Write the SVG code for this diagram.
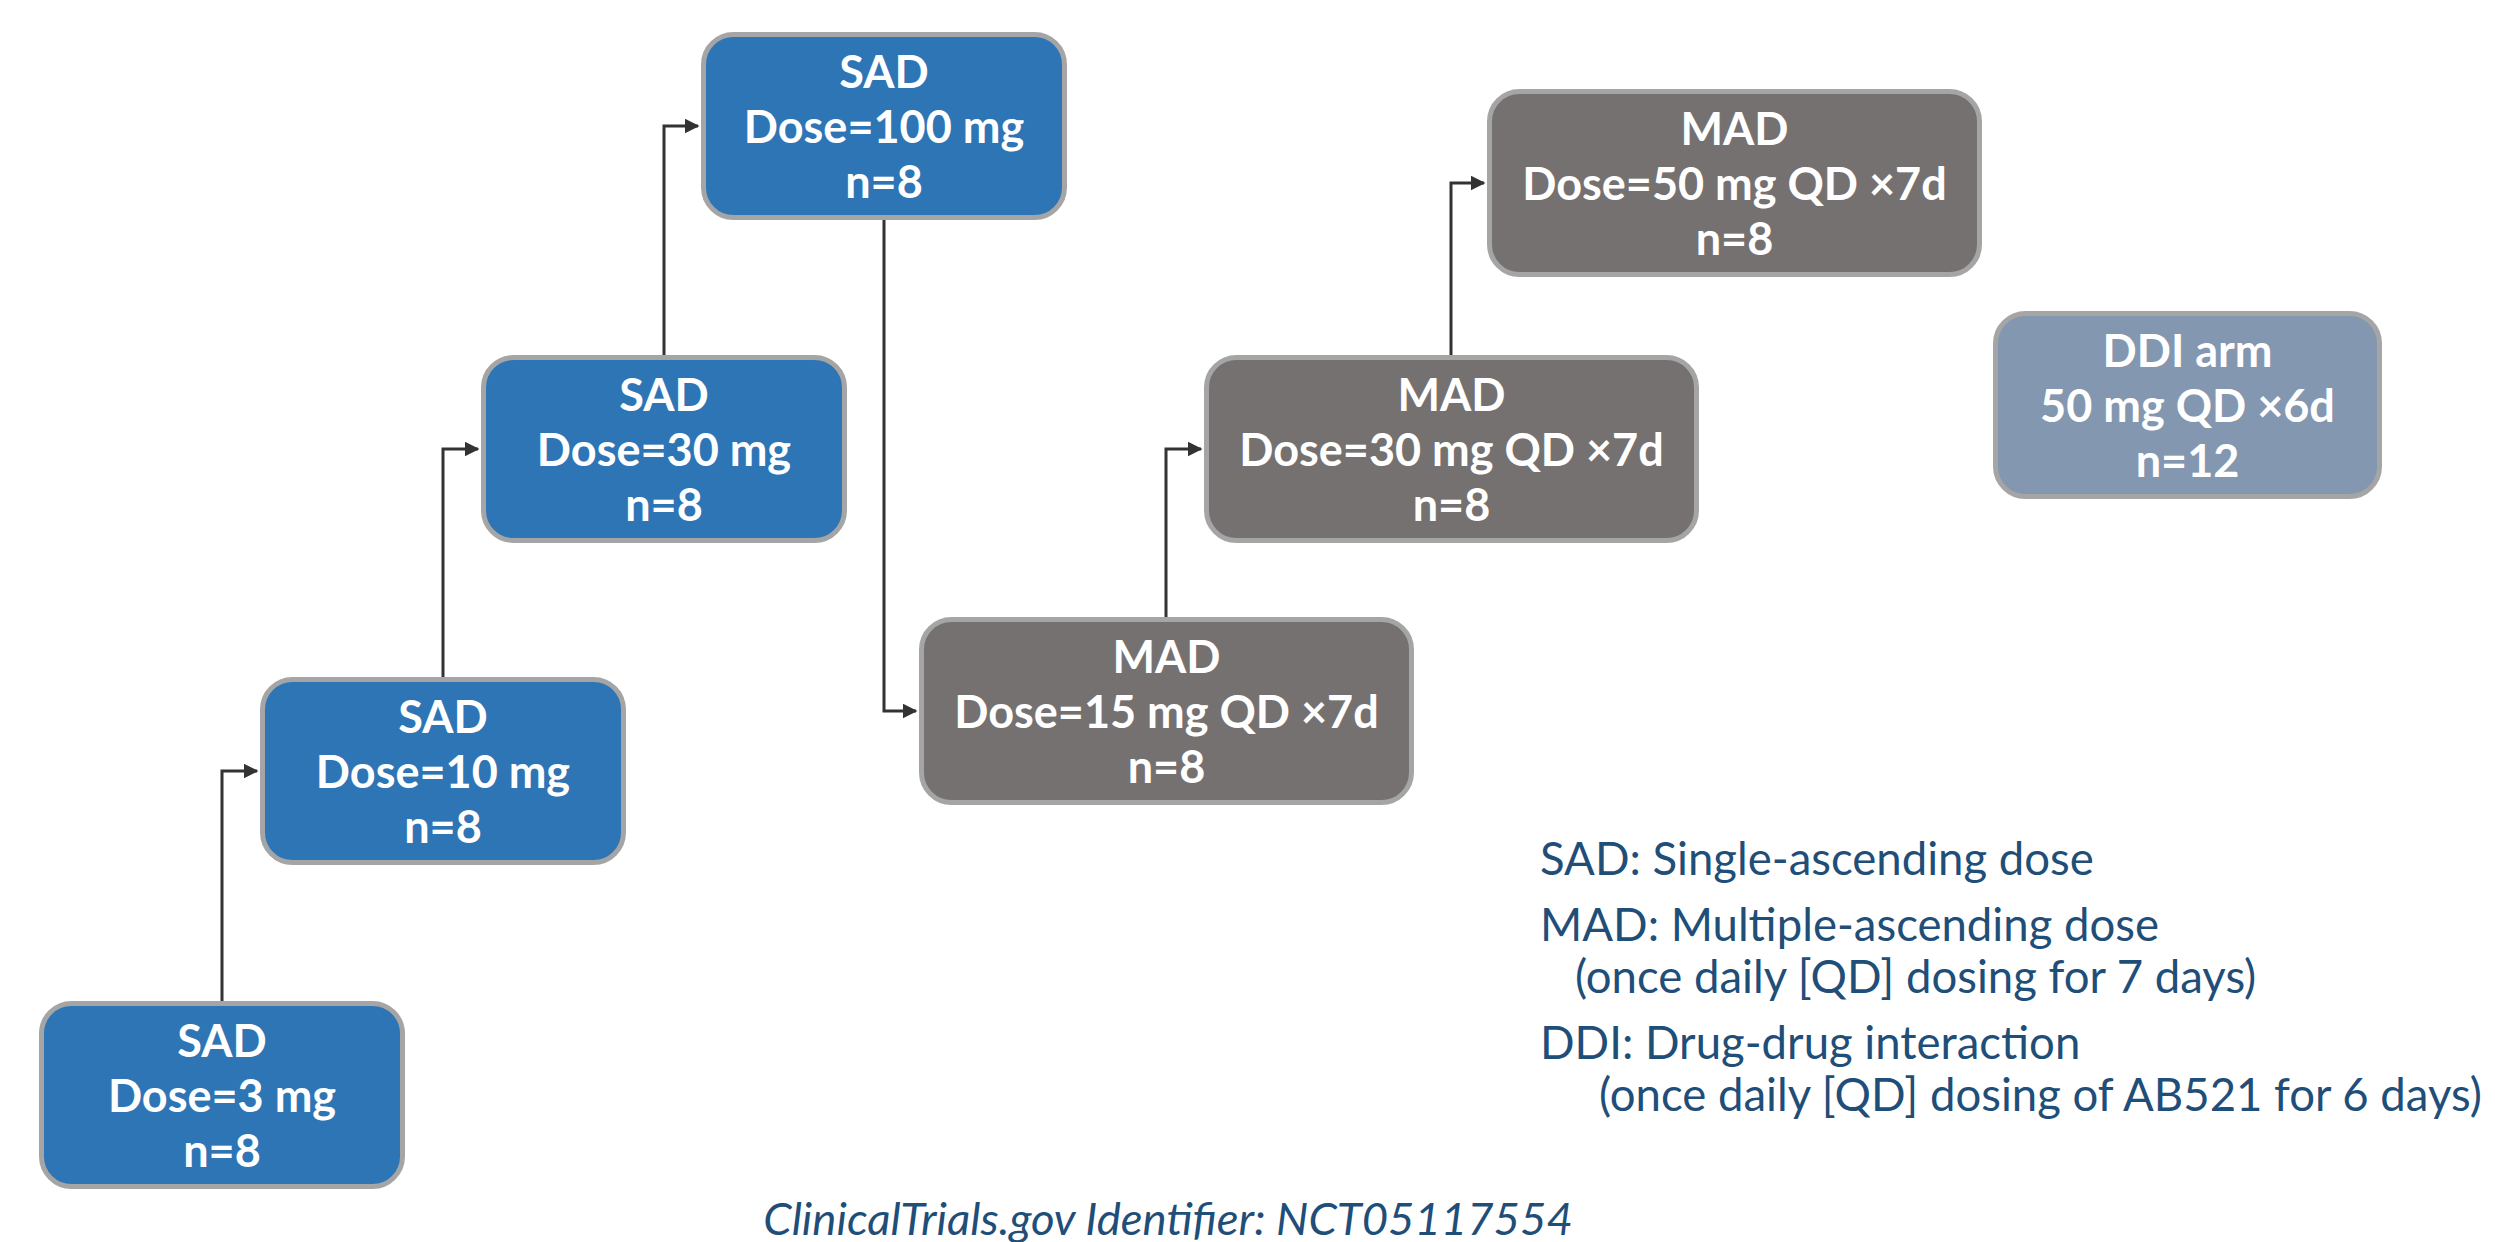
<svg xmlns="http://www.w3.org/2000/svg" width="2495" height="1242" viewBox="0 0 2495 1242">
  <style>
    .box { stroke: #a5a5a5; stroke-width: 5; }
    .sad { fill: #2e75b6; }
    .mad { fill: #767171; }
    .ddi { fill: #8497b0; }
    .lbl { font-family: Lato, "Liberation Sans", sans-serif; font-weight: bold; font-size: 45px; fill: #ffffff; text-anchor: middle; }
    .conn { fill: none; stroke: #333333; stroke-width: 3; }
    .legend { font-family: Lato, "Liberation Sans", sans-serif; font-size: 45.5px; fill: #1f4e79; }
    .foot { font-family: Lato, "Liberation Sans", sans-serif; font-style: italic; font-size: 45.5px; fill: #1f4e79; text-anchor: middle; }
  </style>
  <defs>
    <marker id="arrow" markerWidth="5" markerHeight="5" refX="4.5" refY="2.5" orient="auto" markerUnits="strokeWidth">
      <path d="M0,0 L5,2.5 L0,5 Z" fill="#333333"/>
    </marker>
  </defs>
  <rect width="2495" height="1242" fill="#ffffff"/>

  <!-- escalation connectors -->
  <g id="connectors">
    <path class="conn" d="M222,1001 V771 H257" marker-end="url(#arrow)"/>
    <path class="conn" d="M443,677 V449 H478" marker-end="url(#arrow)"/>
    <path class="conn" d="M664,355 V126 H698" marker-end="url(#arrow)"/>
    <path class="conn" d="M884,220 V711 H916" marker-end="url(#arrow)"/>
    <path class="conn" d="M1166,617 V449 H1201" marker-end="url(#arrow)"/>
    <path class="conn" d="M1451,355 V183 H1484" marker-end="url(#arrow)"/>
  </g>

  <!-- single-ascending dose cohorts -->
  <g id="sad3">
    <rect class="box sad" x="41.5" y="1003.5" width="361" height="183" rx="30"/>
    <text class="lbl" x="222" y="1057">SAD</text>
    <text class="lbl" x="222" y="1112">Dose=3 mg</text>
    <text class="lbl" x="222" y="1167">n=8</text>
  </g>
  <g id="sad10">
    <rect class="box sad" x="262.5" y="679.5" width="361" height="183" rx="30"/>
    <text class="lbl" x="443" y="733">SAD</text>
    <text class="lbl" x="443" y="788">Dose=10 mg</text>
    <text class="lbl" x="443" y="843">n=8</text>
  </g>
  <g id="sad30">
    <rect class="box sad" x="483.5" y="357.5" width="361" height="183" rx="30"/>
    <text class="lbl" x="664" y="411">SAD</text>
    <text class="lbl" x="664" y="466">Dose=30 mg</text>
    <text class="lbl" x="664" y="521">n=8</text>
  </g>
  <g id="sad100">
    <rect class="box sad" x="703.5" y="34.5" width="361" height="183" rx="30"/>
    <text class="lbl" x="884" y="88">SAD</text>
    <text class="lbl" x="884" y="143">Dose=100 mg</text>
    <text class="lbl" x="884" y="198">n=8</text>
  </g>

  <!-- multiple-ascending dose cohorts -->
  <g id="mad15">
    <rect class="box mad" x="921.5" y="619.5" width="490" height="183" rx="30"/>
    <text class="lbl" x="1166.5" y="673">MAD</text>
    <text class="lbl" x="1166.5" y="728">Dose=15 mg QD ×7d</text>
    <text class="lbl" x="1166.5" y="783">n=8</text>
  </g>
  <g id="mad30">
    <rect class="box mad" x="1206.5" y="357.5" width="490" height="183" rx="30"/>
    <text class="lbl" x="1451.5" y="411">MAD</text>
    <text class="lbl" x="1451.5" y="466">Dose=30 mg QD ×7d</text>
    <text class="lbl" x="1451.5" y="521">n=8</text>
  </g>
  <g id="mad50">
    <rect class="box mad" x="1489.5" y="91.5" width="490" height="183" rx="30"/>
    <text class="lbl" x="1734.5" y="145">MAD</text>
    <text class="lbl" x="1734.5" y="200">Dose=50 mg QD ×7d</text>
    <text class="lbl" x="1734.5" y="255">n=8</text>
  </g>

  <!-- drug-drug interaction arm -->
  <g id="ddi">
    <rect class="box ddi" x="1995.5" y="313.5" width="384" height="183" rx="30"/>
    <text class="lbl" x="2187.5" y="367">DDI arm</text>
    <text class="lbl" x="2187.5" y="422">50 mg QD ×6d</text>
    <text class="lbl" x="2187.5" y="477">n=12</text>
  </g>

  <!-- abbreviations -->
  <g id="legend">
    <text class="legend" x="1540" y="875">SAD: Single-ascending dose</text>
    <text class="legend" x="1540" y="941">MAD: Multiple-ascending dose</text>
    <text class="legend" x="1575" y="993">(once daily [QD] dosing for 7 days)</text>
    <text class="legend" x="1540" y="1059">DDI: Drug-drug interaction</text>
    <text class="legend" x="1599" y="1111">(once daily [QD] dosing of AB521 for 6 days)</text>
  </g>

  <text class="foot" x="1168" y="1235">ClinicalTrials.gov Identifier: NCT05117554</text>
</svg>
